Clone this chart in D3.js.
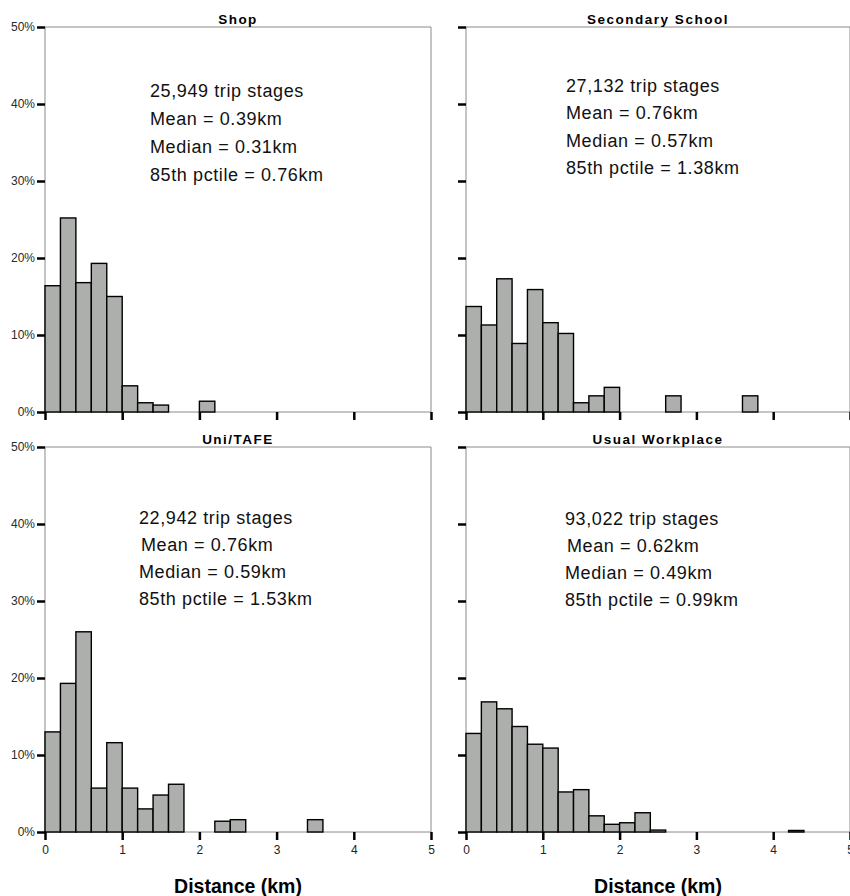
<!DOCTYPE html>
<html>
<head>
<meta charset="utf-8">
<script src="https://cdn.jsdelivr.net/npm/d3@7"></script>
<style>
  body { margin: 0; background: #fff; }
  svg { display: block; font-family: "Liberation Sans", Arial, sans-serif; }
</style>
</head>
<body>
<script>
var titles = ["Shop", "Secondary School", "Uni/TAFE", "Usual Workplace"];
var tripCounts = ["25,949", "27,132", "22,942", "93,022"];
var means = ["0.39", "0.76", "0.76", "0.62"];
var medians = ["0.31", "0.57", "0.59", "0.49"];
var pctile85 = ["0.76", "1.38", "1.53", "0.99"];

// histogram bins: start of each 0.2 km bin and its share of trip stages (%)
var shopBins = [0, 0.2, 0.4, 0.6, 0.8, 1.0, 1.2, 1.4, 2.0];
var shopPct = [16.4, 25.2, 16.8, 19.3, 15.0, 3.4, 1.2, 0.9, 1.4];
var schoolBins = [0, 0.2, 0.4, 0.6, 0.8, 1.0, 1.2, 1.4, 1.6, 1.8, 2.6, 3.6];
var schoolPct = [13.7, 11.3, 17.3, 8.9, 15.9, 11.6, 10.2, 1.2, 2.1, 3.2, 2.1, 2.1];
var uniBins = [0, 0.2, 0.4, 0.6, 0.8, 1.0, 1.2, 1.4, 1.6, 2.2, 2.4, 3.4];
var uniPct = [13.0, 19.3, 26.0, 5.7, 11.6, 5.7, 3.0, 4.8, 6.2, 1.4, 1.6, 1.6];
var workBins = [0, 0.2, 0.4, 0.6, 0.8, 1.0, 1.2, 1.4, 1.6, 1.8, 2.0, 2.2, 2.4, 4.2];
var workPct = [12.8, 16.9, 16.0, 13.7, 11.4, 10.9, 5.2, 5.5, 2.1, 1.0, 1.2, 2.5, 0.25, 0.2];

var binWidth = 0.2;
var xTicks = [0, 1, 2, 3, 4, 5];
var yTicks = [0, 10, 20, 30, 40, 50];

var allBins = [shopBins, schoolBins, uniBins, workBins];
var allPct = [shopPct, schoolPct, uniPct, workPct];

var w = 850;
var h = 896;
var panelH = 385;
var layout = [
    {x: 45, y: 27, pw: 386, tx: 150, ty: 96.5, ls: 28, yLabels: true, xLabels: false},
    {x: 466, y: 27, pw: 384, tx: 566, ty: 91.5, ls: 27.5, yLabels: false, xLabels: false},
    {x: 45, y: 447, pw: 386, tx: 139, ty: 524, ls: 27, yLabels: true, xLabels: true},
    {x: 466, y: 447, pw: 384, tx: 565, ty: 525, ls: 27, yLabels: false, xLabels: true}
];

var svg = d3.select("body")
    .append("svg")
    .attr("width", w)
    .attr("height", h);

var y = d3.scaleLinear().domain([0, 50]).range([panelH, 0]);

layout.forEach(function (p, i) {
    var x = d3.scaleLinear().domain([0, 5]).range([0, p.pw]);
    var g = svg.append("g").attr("transform", "translate(" + p.x + "," + p.y + ")");

    // frame: left axis, top and right border, baseline
    g.append("path")
        .attr("d", "M0," + panelH + "V0H" + p.pw + "V" + panelH + "H0")
        .attr("fill", "none")
        .attr("stroke", "#8a8a8a")
        .attr("stroke-width", 1);

    // bars
    var data = allBins[i].map(function (b, j) { return {x0: b, v: allPct[i][j]}; });
    g.append("g").selectAll("rect")
        .data(data)
        .enter()
        .append("rect")
        .attr("x", function (d) { return x(d.x0); })
        .attr("width", function (d) { return x(d.x0 + binWidth) - x(d.x0); })
        .attr("y", function (d) { return y(d.v); })
        .attr("height", function (d) { return y(0) - y(d.v); })
        .attr("fill", "#adafad")
        .attr("stroke", "#000")
        .attr("stroke-width", 1.4);

    // y axis ticks
    var yAxis = d3.axisLeft(y)
        .tickValues(yTicks)
        .tickSize(8)
        .tickPadding(2)
        .tickFormat(function (d) { return p.yLabels ? d + "%" : ""; });
    var ya = g.append("g").call(yAxis);
    ya.select(".domain").remove();
    ya.selectAll(".tick line").attr("stroke", "#000").attr("stroke-width", 2.5);
    ya.selectAll(".tick text")
        .attr("fill", "#2a2a2a")
        .style("font-size", "12px");

    // x axis ticks
    var xAxis = d3.axisBottom(x)
        .tickValues(xTicks)
        .tickSize(8)
        .tickPadding(5)
        .tickFormat(function (d) { return p.xLabels ? d : ""; });
    var xa = g.append("g").attr("transform", "translate(0," + panelH + ")").call(xAxis);
    xa.select(".domain").remove();
    xa.selectAll(".tick line").attr("stroke", "#000").attr("stroke-width", 2.5);
    xa.selectAll(".tick text")
        .attr("fill", "#222")
        .style("font-size", "12px");

    // title
    svg.append("text")
        .attr("x", p.x + p.pw / 2)
        .attr("y", p.y - 3.5)
        .attr("text-anchor", "middle")
        .style("font-size", "13.5px")
        .style("font-weight", "bold")
        .style("letter-spacing", "1.5px")
        .text(titles[i]);

    // stats text
    var lines = [
        tripCounts[i] + " trip stages",
        "Mean = " + means[i] + "km",
        "Median = " + medians[i] + "km",
        "85th pctile = " + pctile85[i] + "km"
    ];
    svg.append("g").selectAll("text")
        .data(lines)
        .enter()
        .append("text")
        .attr("x", function (d, j) { return p.tx + (i >= 2 && j === 1 ? 2 : 0); })
        .attr("y", function (d, j) { return p.ty + j * p.ls; })
        .attr("fill", "#111")
        .style("font-size", "18px")
        .style("letter-spacing", "0.6px")
        .text(function (d) { return d; });

    if (p.xLabels) {
        svg.append("text")
            .attr("x", p.x + p.pw / 2)
            .attr("y", 893)
            .attr("text-anchor", "middle")
            .style("font-size", "19.5px")
            .style("font-weight", "bold")
            .text("Distance (km)");
    }
});
</script>
</body>
</html>
